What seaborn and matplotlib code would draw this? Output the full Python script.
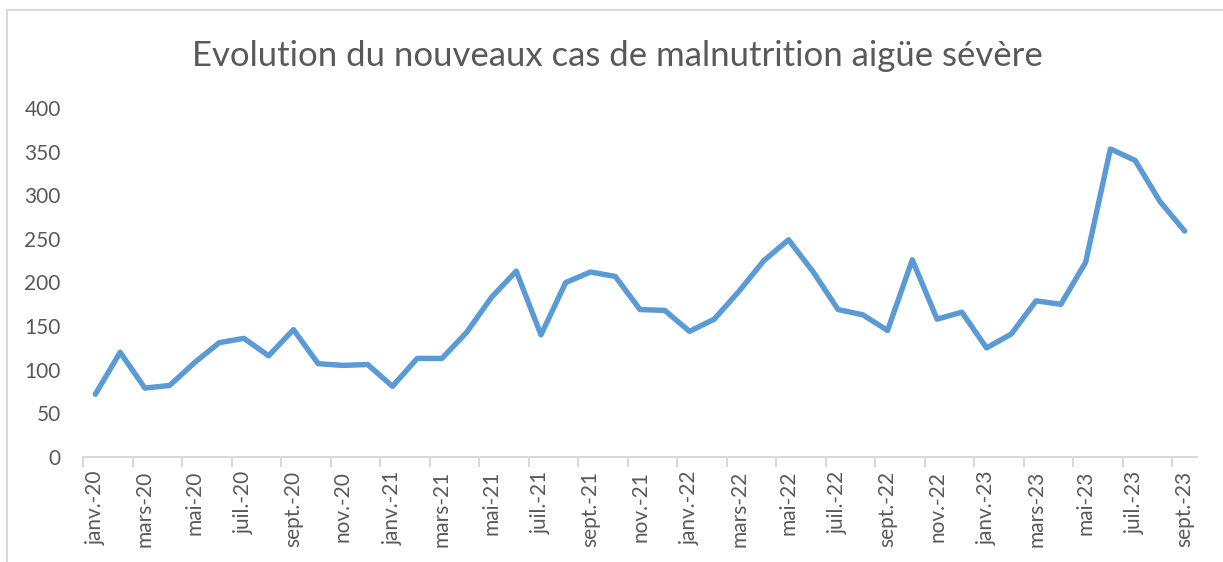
import numpy as np
import pandas as pd
import matplotlib.pyplot as plt
from matplotlib.lines import Line2D
import seaborn as sns

# Données : nouveaux cas de MAS par mois (janv. 2020 - sept. 2023)
mois = [
    "janv.-20", "févr.-20", "mars-20", "avr.-20", "mai-20", "juin-20",
    "juil.-20", "août-20", "sept.-20", "oct.-20", "nov.-20", "déc.-20",
    "janv.-21", "févr.-21", "mars-21", "avr.-21", "mai-21", "juin-21",
    "juil.-21", "août-21", "sept.-21", "oct.-21", "nov.-21", "déc.-21",
    "janv.-22", "févr.-22", "mars-22", "avr.-22", "mai-22", "juin-22",
    "juil.-22", "août-22", "sept.-22", "oct.-22", "nov.-22", "déc.-22",
    "janv.-23", "févr.-23", "mars-23", "avr.-23", "mai-23", "juin-23",
    "juil.-23", "août-23", "sept.-23",
]
cas = [
    72, 120, 79, 82, 108, 131, 136, 116, 146, 107, 105, 106,
    81, 113, 113, 143, 183, 213, 140, 200, 212, 207, 169, 168,
    144, 158, 190, 225, 249, 212, 169, 163, 145, 226, 158, 166,
    125, 141, 179, 175, 223, 353, 340, 293, 259,
]
y_ticks = list(range(0, 401, 50))

GRIS_TEXTE = "#595959"
GRIS_AXE = "#d9d9d9"
BLEU = "#5B9BD5"

sns.set_theme(style="white")
plt.rcParams['font.family'] = ['Lato', 'DejaVu Sans']

df = pd.DataFrame({"mois": mois, "cas": cas})

W, H = 1223, 562
fig = plt.figure(figsize=(W / 100, H / 100), dpi=100)
ax = fig.add_axes([83 / W, 1 - 457 / H, (1197 - 83) / W, (457 - 108) / H])

sns.lineplot(data=df, x="mois", y="cas", ax=ax, color=BLEU, linewidth=3.9, sort=False)
for ln in ax.lines:
    ln.set_solid_capstyle("round")
    ln.set_solid_joinstyle("round")

ax.set_xlim(-0.5, len(mois) - 0.5)
ax.set_ylim(0, 400)

# étiquettes un mois sur deux, graduations aux limites des catégories
pos = np.arange(len(mois))
ax.set_xticks(pos[::2])
ax.set_xticklabels(mois[::2], rotation=90, fontsize=15, color=GRIS_TEXTE)
ax.set_xticks(np.arange(-0.5, len(mois) - 1, 2), minor=True)
ax.tick_params(axis="x", which="major", length=0, pad=10)
ax.tick_params(axis="x", which="minor", length=7, width=1.5, color=GRIS_AXE, bottom=True)

ax.set_yticks(y_ticks)
ax.set_yticklabels([str(v) for v in y_ticks], fontsize=15, color=GRIS_TEXTE)
ax.tick_params(axis="y", length=0, pad=16)

ax.set_xlabel("")
ax.set_ylabel("")
for s in ["top", "right", "left"]:
    ax.spines[s].set_visible(False)
ax.spines["bottom"].set_color(GRIS_AXE)
ax.spines["bottom"].set_linewidth(1.5)
ax.grid(False)

fig.text(0.505, 1 - 56 / H, "Evolution du nouveaux cas de malnutrition aigüe sévère",
         ha="center", va="center", fontsize=25, color=GRIS_TEXTE)

# cadre du graphique (bords gauche et haut visibles)
fig.add_artist(Line2D([6.5 / W, 6.5 / W], [0, 1 - 10 / H], transform=fig.transFigure,
                      color=GRIS_AXE, linewidth=1.5))
fig.add_artist(Line2D([6.5 / W, 1], [1 - 10 / H, 1 - 10 / H], transform=fig.transFigure,
                      color=GRIS_AXE, linewidth=1.5))

fig.savefig("out.png", dpi=100)
